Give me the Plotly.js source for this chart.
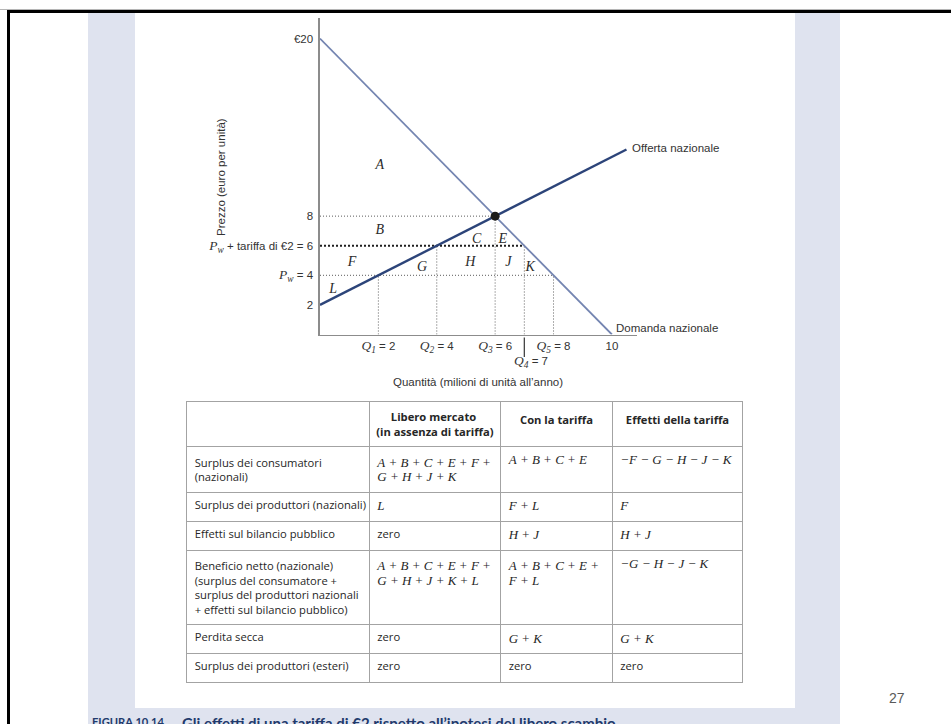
<!DOCTYPE html>
<html>
<head>
<meta charset="utf-8">
<script src="https://cdn.plot.ly/plotly-3.0.1.min.js"></script>
<style>
  html, body { margin: 0; padding: 0; background: #fff; }
  #chart { width: 951px; height: 724px; }
</style>
</head>
<body>
<div id="chart"></div>
<script>
// market curves (quantity in millions of units, price in euro)
const demandQ = [0, 10];
const demandP = [20, 0];
const supplyQ = [0, 10.5];
const supplyP = [2, 12.5];
const equilibriumQ = [6];
const equilibriumP = [8];

// dotted guides
const levelP = [8, 4];          // horizontal dotted levels
const levelQ = [6, 8];          // ... and where they stop
const tariffP = 6;              // world price + tariff
const tariffQ = 7;
const dropQ = [2, 4, 6, 7, 8];  // vertical dotted drops
const dropP = [4, 6, 8, 6, 4];

// area letters
const areaNames = ['A', 'B', 'C', 'E', 'F', 'G', 'H', 'J', 'K', 'L'];
const areaQ = [2.05, 2.05, 5.37, 6.26, 1.1, 3.5, 5.15, 6.45, 7.2, 0.45];
const areaP = [11.4, 7.0, 6.45, 6.45, 4.9, 4.55, 4.9, 4.9, 4.55, 3.05];

// ticks
const xTickVals = [2, 4, 6, 8, 10];
const xTickLabels = ['Q1 = 2', 'Q2 = 4', 'Q3 = 6', 'Q5 = 8', '10'];
const yTickVals = [2, 4, 6, 8, 20];
const yTickLabels = ['2', 'Pw = 4', 'Pw + tariffa di €2 = 6', '8', '€20'];
const q4Value = 7;
const q4Label = 'Q4 = 7';

// table
const tableHeaders = ['', 'Libero mercato<br>(in assenza di tariffa)', '<br>Con la tariffa', '<br>Effetti della tariffa'];
const rowLabels = [
  'Surplus dei consumatori<br>(nazionali)',
  'Surplus dei produttori (nazionali)',
  'Effetti sul bilancio pubblico',
  'Beneficio netto (nazionale)<br>(surplus del consumatore +<br>surplus del produttori nazionali<br>+ effetti sul bilancio pubblico)',
  'Perdita secca',
  'Surplus dei produttori (esteri)'
];
const freeTrade = ['A + B + C + E + F +<br>G + H + J + K', 'L', 'zero', 'A + B + C + E + F +<br>G + H + J + K + L', 'zero', 'zero'];
const withTariff = ['A + B + C + E', 'F + L', 'H + J', 'A + B + C + E +<br>F + L', 'G + K', 'zero'];
const tariffEffect = ['−F − G − H − J − K', 'F', 'H + J', '−G − H − J − K', 'G + K', 'zero'];

const W = 951, H = 724;
const px = x => x / W;
const py = y => 1 - y / H;

const sans = 'Liberation Sans, Arial, sans-serif';
const serif = 'Liberation Serif, Times New Roman, serif';
const tableSans = 'Open Sans, Noto Sans, sans-serif';
const ink = '#333333';
const mathStyle = 'font-family:Liberation Serif,serif;font-style:italic;font-size:13.5px';

function fmtMath(label) {
  return label.replace(/^([PQ])(\w)/, (m, a, b) =>
    '<span style="' + mathStyle + '">' + a + '<sub>' + b + '</sub></span>');
}

function segments(x0, x1, y0, y1) {
  const xs = [], ys = [];
  x0.forEach((_, i) => {
    xs.push(x0[i], x1[i], null);
    ys.push(y0[i], y1[i], null);
  });
  return { xs, ys };
}

const levels = segments(levelP.map(() => 0), levelQ, levelP, levelP);
const drops = segments(dropQ, dropQ, dropP.map(() => 0), dropP);

const nb = s => s.replace(/ /g, '\u00a0');
const isMath = s => s !== 'zero';
const isMulti = s => s.includes('<br>');
const mathCols = [freeTrade, withTariff, tariffEffect];

// multi-line formulas keep the small base size for line spacing,
// the glyphs are enlarged line by line
function mathCell(v) {
  if (!isMath(v) || !isMulti(v)) return nb(v);
  return v.split('<br>').map(l => '<span style="font-size:13px">' + nb(l) + '</span>').join('<br>');
}

// the table centres a multi-line block but keeps its lines flush left,
// so pad the shorter lines to centre them one by one
const measure = document.createElement('canvas').getContext('2d');
measure.font = 'bold 11.2px "Open Sans"';
function centreLines(text) {
  const lines = text.split('<br>');
  const widths = lines.map(l => measure.measureText(l).width);
  const widest = Math.max(...widths);
  const space = measure.measureText('\u00a0').width;
  return lines.map((l, i) => {
    if (!l) return '';
    const pad = '\u00a0'.repeat(Math.round((widest - widths[i]) / 2 / space));
    return pad + '<b>' + nb(l) + '</b>';
  }).join('<br>');
}

const traces = [
  {
    x: levels.xs, y: levels.ys, mode: 'lines', hoverinfo: 'skip',
    line: { color: '#5c5c5c', width: 1, dash: '1px,2px' }
  },
  {
    x: drops.xs, y: drops.ys, mode: 'lines', hoverinfo: 'skip',
    line: { color: '#5c5c5c', width: 1, dash: '1px,2px' }
  },
  {
    x: [0, tariffQ], y: [tariffP, tariffP], mode: 'lines', hoverinfo: 'skip',
    line: { color: '#1f1f1f', width: 2, dash: '2px,2px' }
  },
  {
    x: demandQ, y: demandP, mode: 'lines', name: 'Domanda nazionale',
    line: { color: '#7485b1', width: 1.8 }
  },
  {
    x: supplyQ, y: supplyP, mode: 'lines', name: 'Offerta nazionale',
    line: { color: '#2c4479', width: 2.4 }
  },
  {
    x: equilibriumQ, y: equilibriumP, mode: 'markers',
    marker: { color: '#1a1a1a', size: 9 }
  },
  {
    x: areaQ, y: areaP, mode: 'text', text: areaNames, cliponaxis: false,
    textfont: { family: serif, size: 14, style: 'italic', color: '#2b2b2b' },
    hoverinfo: 'skip'
  },
  {
    type: 'table',
    domain: { x: [px(186.7), px(742.7)], y: [py(704), py(401)] },
    columnwidth: [182.6, 131.4, 111.6, 130.4],
    header: {
      values: tableHeaders.map(centreLines),
      align: ['left', 'center', 'center', 'center'],
      height: 29,
      fill: { color: '#ffffff' },
      line: { color: '#a3a3a3', width: 1 },
      font: { family: tableSans, size: 11.2, color: '#262626' }
    },
    cells: {
      values: [rowLabels.map(nb)].concat(mathCols.map(col => col.map(mathCell))),
      align: 'left',
      height: 29,
      fill: { color: '#ffffff' },
      line: { color: '#a3a3a3', width: 1 },
      font: {
        family: [rowLabels.map(() => tableSans)].concat(mathCols.map(col => col.map(v => isMath(v) ? serif : tableSans))),
        size: [rowLabels.map(() => 11.2)].concat(mathCols.map(col => col.map(v => isMath(v) && !isMulti(v) ? 13 : 11.2))),
        style: [rowLabels.map(() => 'normal')].concat(mathCols.map(col => col.map(v => isMath(v) ? 'italic' : 'normal'))),
        color: '#262626'
      }
    }
  }
];

const layout = {
  width: W, height: H,
  margin: { l: 0, r: 0, t: 0, b: 0 },
  paper_bgcolor: '#ffffff',
  plot_bgcolor: 'rgba(0,0,0,0)',
  showlegend: false,
  xaxis: {
    domain: [px(320), px(637)], range: [0, 10.86],
    showline: true, linecolor: '#8c8c8c', linewidth: 1.6,
    showgrid: false, zeroline: false, fixedrange: true,
    tickvals: xTickVals, ticktext: xTickLabels.map(fmtMath),
    ticks: '', tickfont: { family: sans, size: 11.5, color: ink }
  },
  yaxis: {
    domain: [py(334.5), py(18)], range: [0, 21.39],
    showline: true, linecolor: '#8c8c8c', linewidth: 1.6,
    showgrid: false, zeroline: false, fixedrange: true,
    tickvals: yTickVals, ticktext: yTickLabels.map(fmtMath),
    ticks: 'outside', ticklen: 3, tickcolor: 'rgba(0,0,0,0)',
    tickfont: { family: sans, size: 11.5, color: ink }
  },
  shapes: [
    { type: 'rect', xref: 'paper', yref: 'paper', layer: 'below', line: { width: 0 },
      x0: px(88), x1: px(840), y0: 0, y1: py(12), fillcolor: '#dfe3ef' },
    { type: 'rect', xref: 'paper', yref: 'paper', layer: 'below', line: { width: 0 },
      x0: px(135), x1: px(795), y0: py(708), y1: py(12), fillcolor: '#ffffff' },
    { type: 'line', xref: 'paper', yref: 'paper', x0: 0, x1: 1, y0: py(9.5), y1: py(9.5),
      line: { color: '#b5b5b5', width: 1 } },
    { type: 'line', xref: 'paper', yref: 'paper', x0: px(7), x1: 1, y0: py(11.5), y1: py(11.5),
      line: { color: '#000000', width: 3 } },
    { type: 'line', xref: 'paper', yref: 'paper', x0: px(8.5), x1: px(8.5), y0: 0, y1: py(10),
      line: { color: '#000000', width: 3 } }
  ],
  annotations: [
    { x: supplyQ[1], y: supplyP[1], xref: 'x', yref: 'y', text: 'Offerta nazionale',
      showarrow: false, xanchor: 'left', yanchor: 'middle', xshift: 4, yshift: 2,
      font: { family: sans, size: 11.5, color: ink } },
    { x: demandQ[1], y: demandP[1], xref: 'x', yref: 'y', text: 'Domanda nazionale',
      showarrow: false, xanchor: 'left', yanchor: 'middle', xshift: 2, yshift: 7,
      font: { family: sans, size: 11.5, color: ink } },
    { x: q4Value, y: 0, xref: 'x', yref: 'y', text: ' ', showarrow: true,
      arrowhead: 0, arrowwidth: 1.3, arrowcolor: '#444444', ax: 0, ay: 30, standoff: 3,
      font: { family: sans, size: 11.5, color: ink } },
    { x: q4Value + 0.22, y: 0, xref: 'x', yref: 'y', text: fmtMath(q4Label),
      showarrow: false, yshift: -27, xanchor: 'center', yanchor: 'middle',
      font: { family: sans, size: 11.5, color: ink } },
    { x: px(478), y: py(382), xref: 'paper', yref: 'paper', xanchor: 'center', yanchor: 'middle',
      text: 'Quantità (milioni di unità all’anno)', showarrow: false,
      font: { family: sans, size: 11.5, color: ink } },
    { x: px(221), y: py(177), xref: 'paper', yref: 'paper', textangle: -90,
      xanchor: 'center', yanchor: 'middle',
      text: 'Prezzo (euro per unità)', showarrow: false,
      font: { family: sans, size: 11.5, color: ink } },
    { x: px(897), y: py(698), xref: 'paper', yref: 'paper', text: '27', showarrow: false,
      xanchor: 'center', yanchor: 'middle',
      font: { family: 'Liberation Sans Narrow, Liberation Sans, sans-serif', size: 14, color: '#595959' } },
    { x: px(90), y: py(713), xref: 'paper', yref: 'paper', text: '<b>FIGURA 10.14</b>',
      showarrow: false, xanchor: 'left', yanchor: 'top',
      font: { family: 'Lato, sans-serif', size: 11.2, color: '#223a6c' } },
    { x: px(180), y: py(712), xref: 'paper', yref: 'paper',
      text: '<b>Gli effetti di una tariffa di €2 rispetto all’ipotesi del libero scambio</b>',
      showarrow: false, xanchor: 'left', yanchor: 'top',
      font: { family: 'Lato, sans-serif', size: 15, color: '#223a6c' } }
  ]
};

Plotly.newPlot('chart', traces, layout, { displayModeBar: false, staticPlot: true });
</script>
</body>
</html>
